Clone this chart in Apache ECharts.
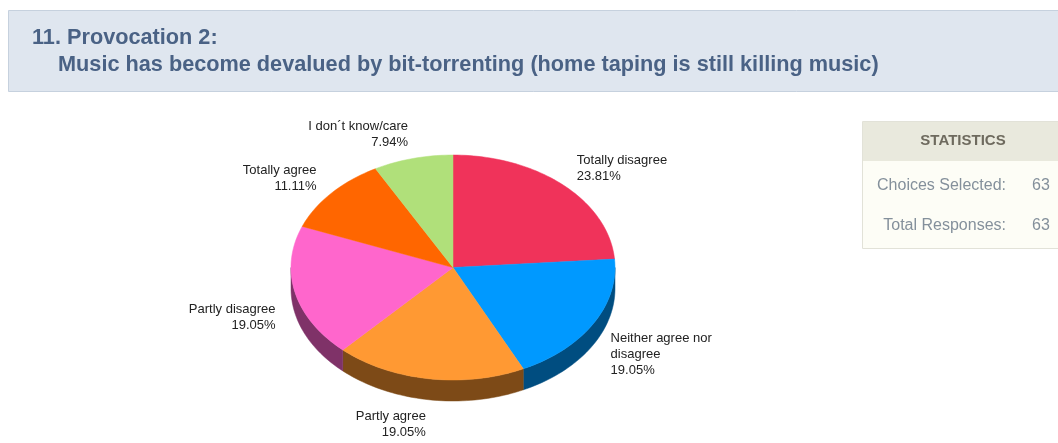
<!DOCTYPE html>
<html>
<head>
<meta charset="utf-8">
<script src="https://cdn.jsdelivr.net/npm/echarts@6/dist/echarts.min.js"></script>
<style>
  html, body { margin: 0; padding: 0; background: #ffffff; }
  #chart { width: 1058px; height: 443px; }
</style>
</head>
<body>
<div id="chart"></div>
<script>
// Question heading
const questionNumber = '11. Provocation 2:';
const questionText = 'Music has become devalued by bit-torrenting (home taping is still killing music)';

// Answer choices and how many respondents picked each
const categories = [
  'Totally disagree',
  'Neither agree nor disagree',
  'Partly agree',
  'Partly disagree',
  'Totally agree',
  'I don´t know/care'
];
const counts = [15, 12, 12, 12, 7, 5];

// Slice colours: top face and darker side wall
const topColors = ['#f0335a', '#0099ff', '#ff9933', '#ff66cc', '#ff6600', '#b0e07a'];
const sideColors = ['#7a1a2d', '#004d80', '#7d4a17', '#7f3268', '#803300', '#58703d'];

// Statistics panel
const statLabels = ['Choices Selected:', 'Total Responses:'];
const statValues = [63, 63];

// ---- pie geometry (tilted ellipse with a visible rim) ----
const CX = 453, CY = 267.5, RX = 162, RY = 112.5, DEPTH = 21;
const total = counts.reduce((a, b) => a + b, 0);
const slices = [];
(function () {
  let acc = 0;
  counts.forEach((c) => {
    const a0 = acc / total * Math.PI * 2;
    acc += c;
    const a1 = acc / total * Math.PI * 2;
    slices.push({ a0, a1 });
  });
})();

function arcPoints(a0, a1, dy) {
  const n = Math.max(2, Math.ceil((a1 - a0) / (Math.PI / 120)));
  const pts = [];
  for (let i = 0; i <= n; i++) {
    const t = a0 + (a1 - a0) * i / n;
    pts.push([CX + RX * Math.sin(t), CY - RY * Math.cos(t) + dy]);
  }
  return pts;
}

function renderSide(params, api) {
  const s = slices[params.dataIndex];
  const lo = Math.max(s.a0, Math.PI / 2);
  const hi = Math.min(s.a1, Math.PI * 1.5);
  if (hi <= lo) return null;
  const upper = arcPoints(lo, hi, 0);
  const lower = arcPoints(lo, hi, DEPTH).reverse();
  return {
    type: 'polygon',
    shape: { points: upper.concat(lower) },
    style: { fill: sideColors[params.dataIndex], stroke: sideColors[params.dataIndex], lineWidth: 0.5 }
  };
}

function renderTop(params, api) {
  const i = params.dataIndex;
  const s = slices[i];
  const pts = [[CX, CY]].concat(arcPoints(s.a0, s.a1, 0));
  const mid = (s.a0 + s.a1) / 2;
  const sn = Math.sin(mid), cs = Math.cos(mid);
  // labels sit on a wider ellipse around the pie, further out near top and bottom
  const lx = CX + (RX + 20) * sn;
  const ly = CY - (RY + 15 + 10 * Math.abs(cs)) * cs + (cs < 0 ? DEPTH : 0);
  const pct = (api.value(1) / total * 100).toFixed(2) + '%';
  return {
    type: 'group',
    children: [
      {
        type: 'polygon',
        shape: { points: pts },
        style: { fill: topColors[i], stroke: topColors[i], lineWidth: 0.5 }
      },
      {
        type: 'text',
        style: {
          text: categories[i] + '\n' + pct,
          x: lx,
          y: ly,
          align: sn >= 0 ? 'left' : 'right',
          verticalAlign: 'middle',
          font: '13px "Liberation Sans", Arial, sans-serif',
          fill: '#222222',
          lineHeight: 16,
          width: 112,
          overflow: 'break'
        }
      }
    ]
  };
}

const seriesData = counts.map((c, i) => [i, c]);

const chart = echarts.init(document.getElementById('chart'), null, { renderer: 'canvas' });

const statGraphics = [];
statLabels.forEach((lab, i) => {
  const y = 185.5 + i * 40.5;
  statGraphics.push({
    type: 'text', z: 12,
    style: { text: lab, x: 1006, y: y, align: 'right', verticalAlign: 'middle',
             font: '16px "Liberation Sans", Arial, sans-serif', fill: '#84909b' }
  });
  statGraphics.push({
    type: 'text', z: 12,
    style: { text: String(statValues[i]), x: 1032, y: y, align: 'left', verticalAlign: 'middle',
             font: '16px "Liberation Sans", Arial, sans-serif', fill: '#84909b' }
  });
});

chart.setOption({
  animation: false,
  backgroundColor: '#ffffff',
  graphic: [
    {
      type: 'rect', z: 1,
      shape: { x: 8.5, y: 10.5, width: 1060, height: 81 },
      style: { fill: '#dfe6ef', stroke: '#c6d1de', lineWidth: 1 }
    },
    {
      type: 'text', z: 2,
      style: { text: questionNumber, x: 32, y: 38.5, verticalAlign: 'middle',
               font: 'bold 21.7px "Liberation Sans", Arial, sans-serif', fill: '#4a6285' }
    },
    {
      type: 'text', z: 2,
      style: { text: questionText, x: 58, y: 65, verticalAlign: 'middle',
               font: 'bold 21.7px "Liberation Sans", Arial, sans-serif', fill: '#4a6285' }
    },
    {
      type: 'rect', z: 10,
      shape: { x: 862.5, y: 121.5, width: 210, height: 127 },
      style: { fill: '#fdfdf6', stroke: '#e2e2d8', lineWidth: 1 }
    },
    {
      type: 'rect', z: 11,
      shape: { x: 863, y: 122, width: 210, height: 39 },
      style: { fill: '#e9e9dd' }
    },
    {
      type: 'text', z: 12,
      style: { text: 'STATISTICS', x: 963, y: 141, align: 'center', verticalAlign: 'middle',
               font: 'bold 15px "Liberation Sans", Arial, sans-serif', fill: '#6e6a5e' }
    }
  ].concat(statGraphics),
  series: [
    {
      type: 'custom', coordinateSystem: 'none', silent: true, z: 2,
      renderItem: renderSide, data: seriesData
    },
    {
      type: 'custom', coordinateSystem: 'none', silent: true, z: 3,
      renderItem: renderTop, data: seriesData
    }
  ]
});
</script>
</body>
</html>
